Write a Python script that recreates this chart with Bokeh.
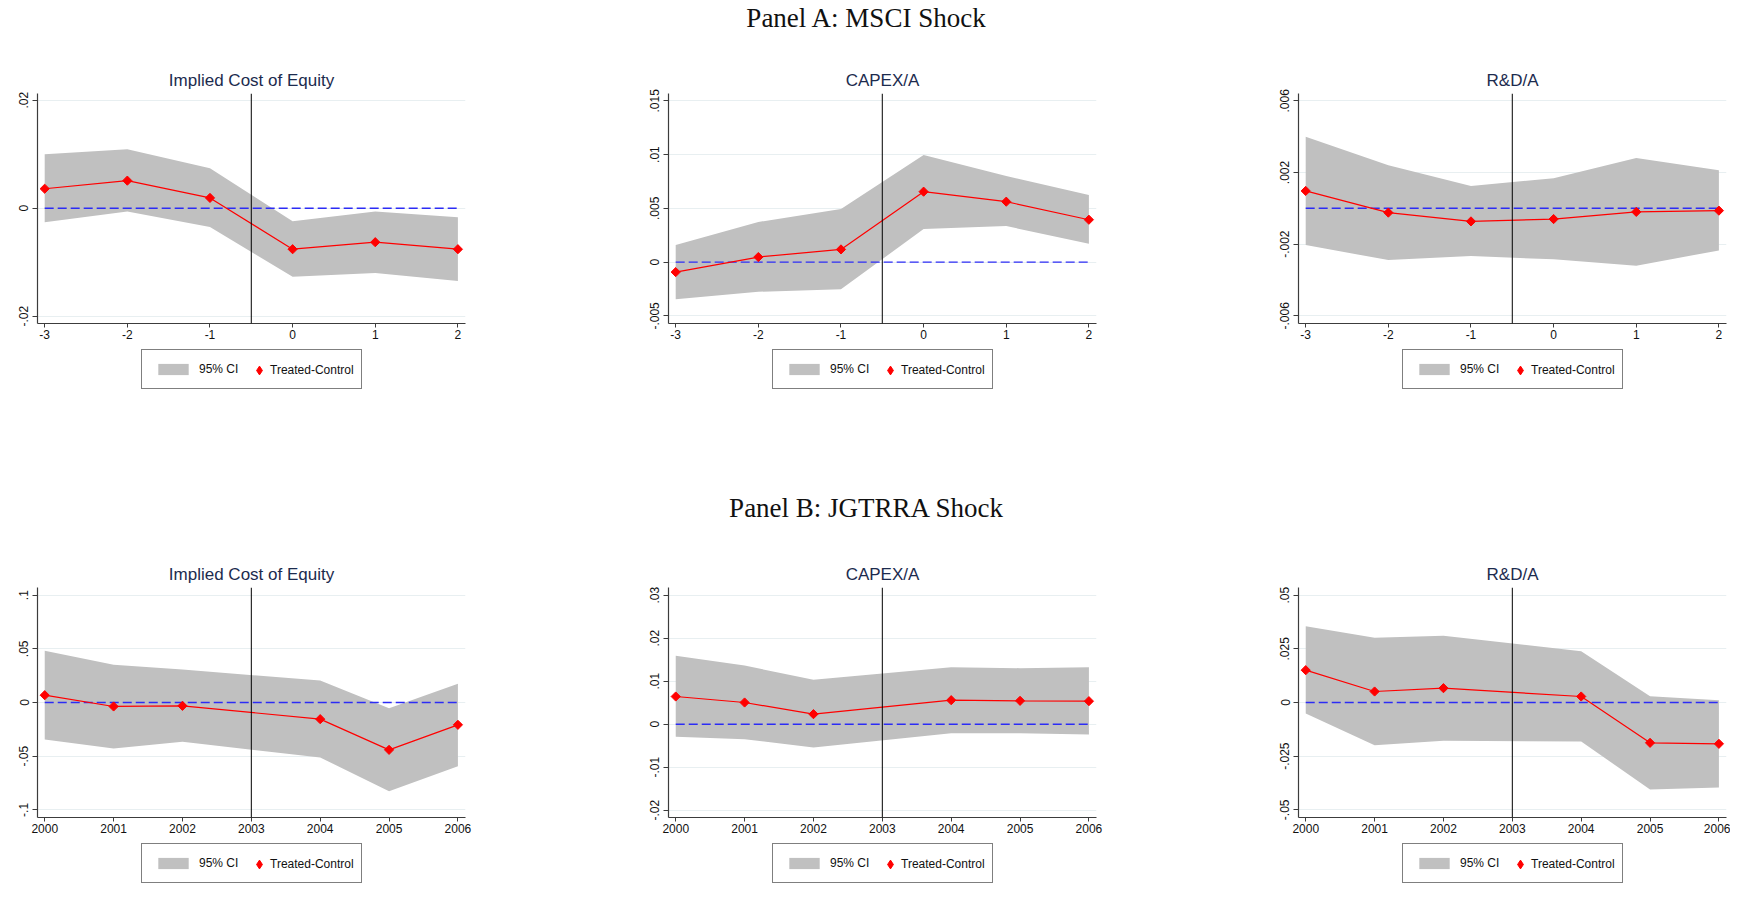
import numpy as np
from bokeh.plotting import figure
from bokeh.layouts import column, row
from bokeh.models import Div, Legend, LegendItem, Span, FixedTicker, Range1d
from bokeh.embed import file_html
from bokeh.resources import INLINE

# ---------------- data ----------------
# Panel A: MSCI shock (event time)
a_x = [-3, -2, -1, 0, 1, 2]
a_xticks = [-3, -2, -1, 0, 1, 2]
a_xlabels = ["-3", "-2", "-1", "0", "1", "2"]
a_event = -0.5

icoe_a_est = [0.0036, 0.0051, 0.0019, -0.0076, -0.0063, -0.0076]
icoe_a_hi = [0.0100, 0.0109, 0.0074, -0.0024, -0.0006, -0.0017]
icoe_a_lo = [-0.0026, -0.0006, -0.0035, -0.0127, -0.0120, -0.0135]

capex_a_est = [-0.00093, 0.00047, 0.00118, 0.00655, 0.00562, 0.00394]
capex_a_hi = [0.00158, 0.00373, 0.00494, 0.00997, 0.00801, 0.00624]
capex_a_lo = [-0.00345, -0.00276, -0.00252, 0.00307, 0.00335, 0.00171]

rd_a_est = [0.00097, -0.00024, -0.00073, -0.00060, -0.00020, -0.00013]
rd_a_hi = [0.00399, 0.00240, 0.00125, 0.00168, 0.00281, 0.00212]
rd_a_lo = [-0.00205, -0.00289, -0.00266, -0.00285, -0.00320, -0.00235]

# Panel B: JGTRRA shock (calendar years)
b_x = [2000, 2001, 2002, 2004, 2005, 2006]
b_xticks = [2000, 2001, 2002, 2003, 2004, 2005, 2006]
b_xlabels = ["2000", "2001", "2002", "2003", "2004", "2005", "2006"]
b_event = 2003

icoe_b_est = [0.0068, -0.0037, -0.0031, -0.0155, -0.0441, -0.0208]
icoe_b_hi = [0.0481, 0.0351, 0.0307, 0.0205, -0.0053, 0.0174]
icoe_b_lo = [-0.0345, -0.0429, -0.0366, -0.0512, -0.0826, -0.0593]

capex_b_est = [0.00643, 0.00504, 0.00233, 0.00558, 0.00543, 0.00535]
capex_b_hi = [0.01589, 0.01364, 0.01031, 0.01326, 0.01302, 0.01326]
capex_b_lo = [-0.00295, -0.00349, -0.00543, -0.00209, -0.00209, -0.00240]

rd_b_est = [0.01506, 0.00512, 0.00668, 0.00280, -0.01879, -0.01925]
rd_b_hi = [0.03556, 0.03012, 0.03106, 0.02391, 0.00295, 0.00109]
rd_b_lo = [-0.00512, -0.01988, -0.01786, -0.01817, -0.04053, -0.03960]

# y-axis ticks and labels
icoe_a_yticks = [-0.02, 0.0, 0.02]
icoe_a_ylabels = ["-.02", "0", ".02"]
capex_a_yticks = [-0.005, 0.0, 0.005, 0.01, 0.015]
capex_a_ylabels = ["-.005", "0", ".005", ".01", ".015"]
rd_a_yticks = [-0.006, -0.002, 0.002, 0.006]
rd_a_ylabels = ["-.006", "-.002", ".002", ".006"]
icoe_b_yticks = [-0.1, -0.05, 0.0, 0.05, 0.1]
icoe_b_ylabels = ["-.1", "-.05", "0", ".05", ".1"]
capex_b_yticks = [-0.02, -0.01, 0.0, 0.01, 0.02, 0.03]
capex_b_ylabels = ["-.02", "-.01", "0", ".01", ".02", ".03"]
rd_b_yticks = [-0.05, -0.025, 0.0, 0.025, 0.05]
rd_b_ylabels = ["-.05", "-.025", "0", ".025", ".05"]

panel_titles = ["Panel A: MSCI Shock", "Panel B: JGTRRA Shock"]
sub_titles = ["Implied Cost of Equity", "CAPEX/A", "R&D/A"]
legend_labels = ["95% CI", "Treated-Control"]

# ---------------- styling ----------------
FW, FH = 428, 230
BOT = 26
SANS = "Liberation Sans"
BAND = "#c0c0c0"
RED = "#ff0000"
BLUE = "#2c2cf5"
AXIS = "#3c3c3c"
GRID = "#e8eff1"
TITLE_C = "#1c2b4e"
LEG_H = 38


def make_panel(title, xs, est, lo, hi, xticks, xlabels, xr, yticks, ylabels, yr,
               event, bl, br, bt):
    p = figure(width=bl + FW + br, height=bt + FH + BOT,
               x_range=Range1d(*xr), y_range=Range1d(*yr),
               output_backend="svg", toolbar_location=None, title=title)
    p.min_border_left = bl
    p.min_border_right = br
    p.min_border_top = bt
    p.min_border_bottom = BOT
    p.outline_line_color = None
    p.background_fill_color = "white"
    p.border_fill_color = "white"

    p.title.align = "center"
    p.title.text_font = SANS
    p.title.text_font_size = "17px"
    p.title.text_font_style = "normal"
    p.title.text_color = TITLE_C
    p.title.standoff = 7

    p.varea(x=xs, y1=lo, y2=hi, fill_color=BAND)
    p.line(x=[xs[0], xs[-1]], y=[0, 0], line_color=BLUE, line_width=1.4,
           line_dash="9 4")
    p.add_layout(Span(location=event, dimension="height", line_color="black",
                      line_width=1))
    p.line(x=xs, y=est, line_color=RED, line_width=1.2)
    p.scatter(x=xs, y=est, marker="square", size=6.5, angle=np.pi / 4,
              fill_color=RED, line_color=RED)

    for ax in (p.xaxis[0], p.yaxis[0]):
        ax.axis_line_color = AXIS
        ax.axis_line_width = 1.2
        ax.major_tick_line_color = AXIS
        ax.major_tick_in = 0
        ax.minor_tick_line_color = None
        ax.major_label_text_font = SANS
        ax.major_label_text_font_size = "12px"
        ax.major_label_text_color = "#111111"
    p.xaxis.major_tick_out = 4
    p.xaxis.major_label_standoff = 2
    p.yaxis.major_tick_out = 5
    p.yaxis.major_label_standoff = 4

    p.xaxis.ticker = FixedTicker(ticks=xticks)
    p.xaxis.major_label_overrides = {t: l for t, l in zip(xticks, xlabels)}
    p.yaxis.ticker = FixedTicker(ticks=yticks)
    p.yaxis.major_label_overrides = {t: l for t, l in zip(yticks, ylabels)}
    p.yaxis.major_label_orientation = "vertical"

    p.xgrid.visible = False
    p.ygrid.ticker = FixedTicker(ticks=yticks)
    p.ygrid.grid_line_color = GRID
    p.ygrid.grid_line_width = 1.2
    return p


def make_legend(xs, est, lo, hi, xr, bl, br, h, gap):
    """Legend strip under a panel; its frame spans the same columns as the panel frame.
    The series are re-plotted here only as legend keys: the strip's y range lies far
    above the data, so nothing but the legend is visible."""
    q = figure(width=bl + FW + br, height=h, x_range=Range1d(*xr), y_range=Range1d(1, 2),
               x_axis_type=None, y_axis_type=None, output_backend="svg",
               toolbar_location=None)
    q.min_border_left = bl
    q.min_border_right = br
    q.min_border_top = 0
    q.min_border_bottom = 0
    q.outline_line_color = None
    q.grid.visible = False
    q.background_fill_color = "white"
    q.border_fill_color = "white"

    band_key = q.varea(x=xs, y1=lo, y2=hi, fill_color=BAND)
    pt_key = q.scatter(x=xs, y=est, marker="diamond", fill_color=RED, line_color=RED)

    y0 = h - gap - LEG_H          # bottom of the legend box, from the strip's bottom
    left = 104                     # box left, relative to the panel frame

    box = Legend(items=[LegendItem(label=legend_labels[0], renderers=[band_key])],
                 location=(left, y0), orientation="horizontal")
    box.border_line_color = "black"
    box.border_line_width = 1.3
    box.background_fill_color = "white"
    box.background_fill_alpha = 1.0
    box.padding = 12
    box.margin = 0
    box.glyph_width = 38
    box.glyph_height = 14
    box.label_height = 14
    box.label_standoff = 7
    box.label_width = 150
    box.label_text_font = SANS
    box.label_text_font_size = "12px"
    box.label_text_color = "#111111"
    q.add_layout(box)

    key = Legend(items=[LegendItem(label=legend_labels[1], renderers=[pt_key])],
                 location=(left + 107, y0 + 8), orientation="horizontal")
    key.border_line_color = None
    key.background_fill_alpha = 0.0
    key.padding = 0
    key.margin = 0
    key.glyph_width = 22
    key.glyph_height = 22
    key.label_height = 22
    key.label_standoff = 0
    key.label_text_font = SANS
    key.label_text_font_size = "12px"
    key.label_text_color = "#111111"
    q.add_layout(key)
    return q


a_xr = (-3.087, 2.092)
b_xr = (1999.895, 2006.11)
BORDERS = [(37, 117), (86, 60), (142, 4)]
TOP_A, TOP_B = 45, 39

pA1 = make_panel(sub_titles[0], a_x, icoe_a_est, icoe_a_lo, icoe_a_hi, a_xticks, a_xlabels,
                 a_xr, icoe_a_yticks, icoe_a_ylabels, (-0.02136, 0.02124), a_event,
                 *BORDERS[0], TOP_A)
pA2 = make_panel(sub_titles[1], a_x, capex_a_est, capex_a_lo, capex_a_hi, a_xticks, a_xlabels,
                 a_xr, capex_a_yticks, capex_a_ylabels, (-0.00571, 0.01568), a_event,
                 *BORDERS[1], TOP_A)
pA3 = make_panel(sub_titles[2], a_x, rd_a_est, rd_a_lo, rd_a_hi, a_xticks, a_xlabels,
                 a_xr, rd_a_yticks, rd_a_ylabels, (-0.00643, 0.00641), a_event,
                 *BORDERS[2], TOP_A)

pB1 = make_panel(sub_titles[0], b_x, icoe_b_est, icoe_b_lo, icoe_b_hi, b_xticks, b_xlabels,
                 b_xr, icoe_b_yticks, icoe_b_ylabels, (-0.1071, 0.1071), b_event,
                 *BORDERS[0], TOP_B)
pB2 = make_panel(sub_titles[1], b_x, capex_b_est, capex_b_lo, capex_b_hi, b_xticks, b_xlabels,
                 b_xr, capex_b_yticks, capex_b_ylabels, (-0.0217, 0.03178), b_event,
                 *BORDERS[1], TOP_B)
pB3 = make_panel(sub_titles[2], b_x, rd_b_est, rd_b_lo, rd_b_hi, b_xticks, b_xlabels,
                 b_xr, rd_b_yticks, rd_b_ylabels, (-0.05357, 0.05357), b_event,
                 *BORDERS[2], TOP_B)

legA = [make_legend(a_x, icoe_a_est, icoe_a_lo, icoe_a_hi, a_xr, *BORDERS[0], 119, 2),
        make_legend(a_x, capex_a_est, capex_a_lo, capex_a_hi, a_xr, *BORDERS[1], 119, 2),
        make_legend(a_x, rd_a_est, rd_a_lo, rd_a_hi, a_xr, *BORDERS[2], 119, 2)]
legB = [make_legend(b_x, icoe_b_est, icoe_b_lo, icoe_b_hi, b_xr, *BORDERS[0], 46, 2),
        make_legend(b_x, capex_b_est, capex_b_lo, capex_b_hi, b_xr, *BORDERS[1], 46, 2),
        make_legend(b_x, rd_b_est, rd_b_lo, rd_b_hi, b_xr, *BORDERS[2], 46, 2)]

ttl_style = ("font-family:'Liberation Serif',serif;font-size:27px;color:#111;"
             "line-height:27px;text-align:center;width:1732px;")
divA = Div(text=f'<div style="{ttl_style}padding-top:5px;">{panel_titles[0]}</div>',
           width=1732, height=48, margin=0)
divB = Div(text=f'<div style="{ttl_style}padding-top:27px;">{panel_titles[1]}</div>',
           width=1732, height=80, margin=0)

layout = column(divA, row(pA1, pA2, pA3), row(*legA),
                divB, row(pB1, pB2, pB3), row(*legB))

open("out.html", "w").write(file_html(layout, INLINE))
